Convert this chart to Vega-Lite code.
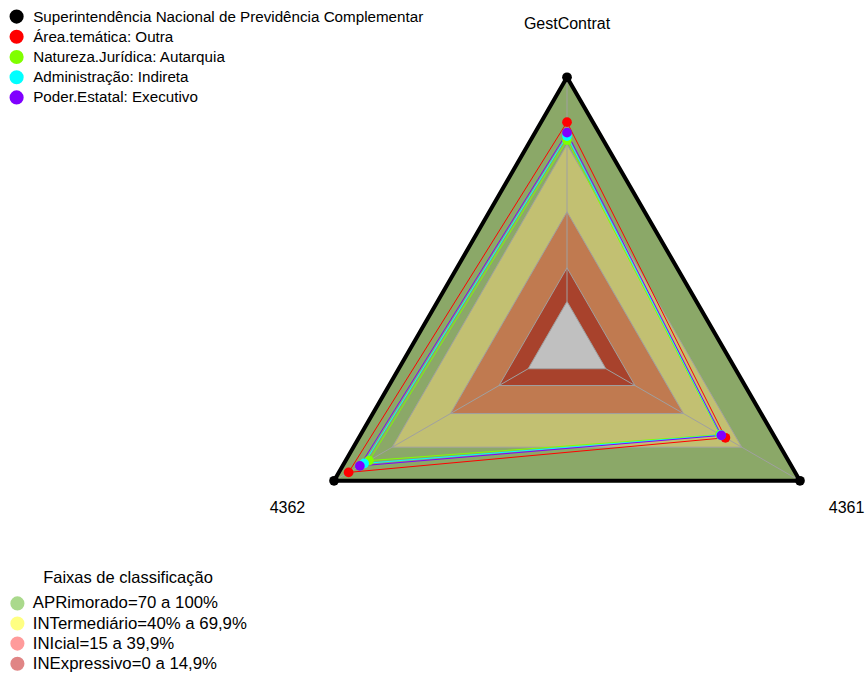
{
  "$schema": "https://vega.github.io/schema/vega-lite/v6.json",
  "width": 866,
  "height": 673,
  "autosize": "none",
  "padding": 0,
  "background": "white",
  "config": {
    "view": {"stroke": null},
    "font": "Liberation Sans",
    "legend": {"labelFont": "Liberation Sans", "titleFont": "Liberation Sans", "labelColor": "#000000", "titleColor": "#000000"}
  },
  "datasets": {
    "faixas": [
      {"faixa": "APRimorado=70 a 100%", "eixo": "GestContrat", "ordem": 0, "valor": 100},
      {"faixa": "APRimorado=70 a 100%", "eixo": "4361", "ordem": 1, "valor": 100},
      {"faixa": "APRimorado=70 a 100%", "eixo": "4362", "ordem": 2, "valor": 100},
      {"faixa": "INTermediário=40% a 69,9%", "eixo": "GestContrat", "ordem": 0, "valor": 70},
      {"faixa": "INTermediário=40% a 69,9%", "eixo": "4361", "ordem": 1, "valor": 70},
      {"faixa": "INTermediário=40% a 69,9%", "eixo": "4362", "ordem": 2, "valor": 70},
      {"faixa": "INIcial=15 a 39,9%", "eixo": "GestContrat", "ordem": 0, "valor": 40},
      {"faixa": "INIcial=15 a 39,9%", "eixo": "4361", "ordem": 1, "valor": 40},
      {"faixa": "INIcial=15 a 39,9%", "eixo": "4362", "ordem": 2, "valor": 40},
      {"faixa": "INExpressivo=0 a 14,9%", "eixo": "GestContrat", "ordem": 0, "valor": 15},
      {"faixa": "INExpressivo=0 a 14,9%", "eixo": "4361", "ordem": 1, "valor": 15},
      {"faixa": "INExpressivo=0 a 14,9%", "eixo": "4362", "ordem": 2, "valor": 15},
      {"faixa": "centro", "eixo": "GestContrat", "ordem": 0, "valor": 0},
      {"faixa": "centro", "eixo": "4361", "ordem": 1, "valor": 0},
      {"faixa": "centro", "eixo": "4362", "ordem": 2, "valor": 0}
    ],
    "series": [
      {"serie": "Superintendência Nacional de Previdência Complementar", "eixo": "GestContrat", "ordem": 0, "valor": 100},
      {"serie": "Superintendência Nacional de Previdência Complementar", "eixo": "4361", "ordem": 1, "valor": 100},
      {"serie": "Superintendência Nacional de Previdência Complementar", "eixo": "4362", "ordem": 2, "valor": 100},
      {"serie": "Área.temática: Outra", "eixo": "GestContrat", "ordem": 0, "valor": 80},
      {"serie": "Área.temática: Outra", "eixo": "4361", "ordem": 1, "valor": 61.6},
      {"serie": "Área.temática: Outra", "eixo": "4362", "ordem": 2, "valor": 92.5},
      {"serie": "Natureza.Jurídica: Autarquia", "eixo": "GestContrat", "ordem": 0, "valor": 72},
      {"serie": "Natureza.Jurídica: Autarquia", "eixo": "4361", "ordem": 1, "valor": 58.8},
      {"serie": "Natureza.Jurídica: Autarquia", "eixo": "4362", "ordem": 2, "valor": 82},
      {"serie": "Administração: Indireta", "eixo": "GestContrat", "ordem": 0, "valor": 73.8},
      {"serie": "Administração: Indireta", "eixo": "4361", "ordem": 1, "valor": 59.2},
      {"serie": "Administração: Indireta", "eixo": "4362", "ordem": 2, "valor": 84.5},
      {"serie": "Poder.Estatal: Executivo", "eixo": "GestContrat", "ordem": 0, "valor": 75.3},
      {"serie": "Poder.Estatal: Executivo", "eixo": "4361", "ordem": 1, "valor": 59.5},
      {"serie": "Poder.Estatal: Executivo", "eixo": "4362", "ordem": 2, "valor": 86.7}
    ],
    "eixos": [
      {"eixo": "GestContrat", "ordem": 0},
      {"eixo": "4361", "ordem": 1},
      {"eixo": "4362", "ordem": 2}
    ]
  },
  "resolve": {"scale": {"fill": "independent"}},
  "layer": [
    {
      "data": {"name": "faixas"},
      "transform": [
        {"filter": "datum.faixa !== 'centro'"},
        {"calculate": "0", "as": "px"},
        {"calculate": "0", "as": "py"}
      ],
      "mark": {"type": "point", "shape": "circle", "filled": true, "size": 0, "strokeWidth": 0},
      "encoding": {
        "x": {"field": "px", "type": "quantitative", "scale": {"domain": [-2.1078, 1.1115], "nice": false, "zero": false}, "axis": null},
        "y": {"field": "py", "type": "quantitative", "scale": {"domain": [-1.2145, 1.2874], "nice": false, "zero": false}, "axis": null},
        "fill": {
          "field": "faixa",
          "type": "nominal",
          "scale": {
            "domain": ["APRimorado=70 a 100%", "INTermediário=40% a 69,9%", "INIcial=15 a 39,9%", "INExpressivo=0 a 14,9%"],
            "range": ["#aad98c", "#ffff82", "#ff9b9b", "#e08585"]
          },
          "legend": {
            "title": "Faixas de classificação",
            "orient": "none",
            "legendX": 9,
            "legendY": 570,
            "symbolType": "circle",
            "symbolSize": 200,
            "symbolStrokeWidth": 0,
            "symbolOpacity": 1,
            "titleAnchor": "middle",
            "titleFontWeight": "normal",
            "titleFontSize": 16.5,
            "titlePadding": 8.5,
            "labelFontSize": 16.8,
            "labelOffset": 7,
            "labelLimit": 500,
            "rowPadding": 2.1,
            "padding": 0
          }
        }
      }
    },
    {
      "data": {"name": "faixas"},
      "transform": [
        {"calculate": "(datum.valor + 20) / 120", "as": "r"},
        {"calculate": "PI / 2 - datum.ordem * 2 * PI / 3", "as": "ang"},
        {"calculate": "datum.r * cos(datum.ang)", "as": "px"},
        {"calculate": "datum.r * sin(datum.ang)", "as": "py"}
      ],
      "mark": {"type": "line", "interpolate": "linear-closed", "stroke": "#a0a0a0", "strokeWidth": 1},
      "encoding": {
        "x": {"field": "px", "type": "quantitative"},
        "y": {"field": "py", "type": "quantitative"},
        "order": {"field": "ordem", "type": "quantitative"},
        "fill": {
          "field": "faixa",
          "type": "nominal",
          "scale": {
            "domain": ["APRimorado=70 a 100%", "INTermediário=40% a 69,9%", "INIcial=15 a 39,9%", "INExpressivo=0 a 14,9%", "centro"],
            "range": ["#8ba868", "#c2c072", "#c07a50", "#a8422c", "#c0c0c0"]
          },
          "legend": null
        }
      }
    },
    {
      "data": {"name": "eixos"},
      "transform": [
        {"calculate": "PI / 2 - datum.ordem * 2 * PI / 3", "as": "ang"},
        {"calculate": "(20 / 120) * cos(datum.ang)", "as": "px"},
        {"calculate": "(20 / 120) * sin(datum.ang)", "as": "py"},
        {"calculate": "cos(datum.ang)", "as": "px2"},
        {"calculate": "sin(datum.ang)", "as": "py2"}
      ],
      "mark": {"type": "rule", "color": "#a0a0a0", "strokeWidth": 1},
      "encoding": {
        "x": {"field": "px", "type": "quantitative"},
        "y": {"field": "py", "type": "quantitative"},
        "x2": {"field": "px2"},
        "y2": {"field": "py2"}
      }
    },
    {
      "data": {"name": "series"},
      "transform": [
        {"calculate": "(datum.valor + 20) / 120", "as": "r"},
        {"calculate": "PI / 2 - datum.ordem * 2 * PI / 3", "as": "ang"},
        {"calculate": "datum.r * cos(datum.ang)", "as": "px"},
        {"calculate": "datum.r * sin(datum.ang)", "as": "py"}
      ],
      "mark": {"type": "line", "interpolate": "linear-closed"},
      "encoding": {
        "x": {"field": "px", "type": "quantitative"},
        "y": {"field": "py", "type": "quantitative"},
        "order": {"field": "ordem", "type": "quantitative"},
        "stroke": {
          "field": "serie",
          "type": "nominal",
          "scale": {
            "domain": ["Poder.Estatal: Executivo", "Administração: Indireta", "Natureza.Jurídica: Autarquia", "Área.temática: Outra", "Superintendência Nacional de Previdência Complementar"],
            "range": ["#8000ff", "#00ffff", "#80ff00", "#ff0000", "#000000"]
          },
          "legend": null
        },
        "strokeWidth": {
          "condition": {"test": "datum.serie === 'Superintendência Nacional de Previdência Complementar'", "value": 4},
          "value": 1
        }
      }
    },
    {
      "data": {"name": "series"},
      "transform": [
        {"calculate": "(datum.valor + 20) / 120", "as": "r"},
        {"calculate": "PI / 2 - datum.ordem * 2 * PI / 3", "as": "ang"},
        {"calculate": "datum.r * cos(datum.ang)", "as": "px"},
        {"calculate": "datum.r * sin(datum.ang)", "as": "py"}
      ],
      "mark": {"type": "point", "shape": "circle", "filled": true, "opacity": 1, "size": 95},
      "encoding": {
        "x": {"field": "px", "type": "quantitative"},
        "y": {"field": "py", "type": "quantitative"},
        "color": {
          "field": "serie",
          "type": "nominal",
          "scale": {
            "domain": ["Superintendência Nacional de Previdência Complementar", "Área.temática: Outra", "Natureza.Jurídica: Autarquia", "Administração: Indireta", "Poder.Estatal: Executivo"],
            "range": ["#000000", "#ff0000", "#80ff00", "#00ffff", "#8000ff"]
          },
          "legend": {
            "title": null,
            "orient": "none",
            "legendX": 9,
            "legendY": 9,
            "symbolType": "circle",
            "symbolSize": 200,
            "symbolOpacity": 1,
            "symbolStrokeWidth": 0,
            "labelFontSize": 15.2,
            "labelOffset": 9,
            "rowPadding": 4.2,
            "padding": 0,
            "labelLimit": 600
          }
        }
      }
    },
    {
      "data": {"name": "eixos"},
      "transform": [
        {"calculate": "PI / 2 - datum.ordem * 2 * PI / 3", "as": "ang"},
        {"calculate": "1.2 * cos(datum.ang)", "as": "px"},
        {"calculate": "1.2 * sin(datum.ang)", "as": "py"}
      ],
      "mark": {"type": "text", "fontSize": 16, "font": "Liberation Sans", "color": "#000000", "align": "center", "baseline": "middle"},
      "encoding": {
        "x": {"field": "px", "type": "quantitative"},
        "y": {"field": "py", "type": "quantitative"},
        "text": {"field": "eixo", "type": "nominal"}
      }
    }
  ]
}
